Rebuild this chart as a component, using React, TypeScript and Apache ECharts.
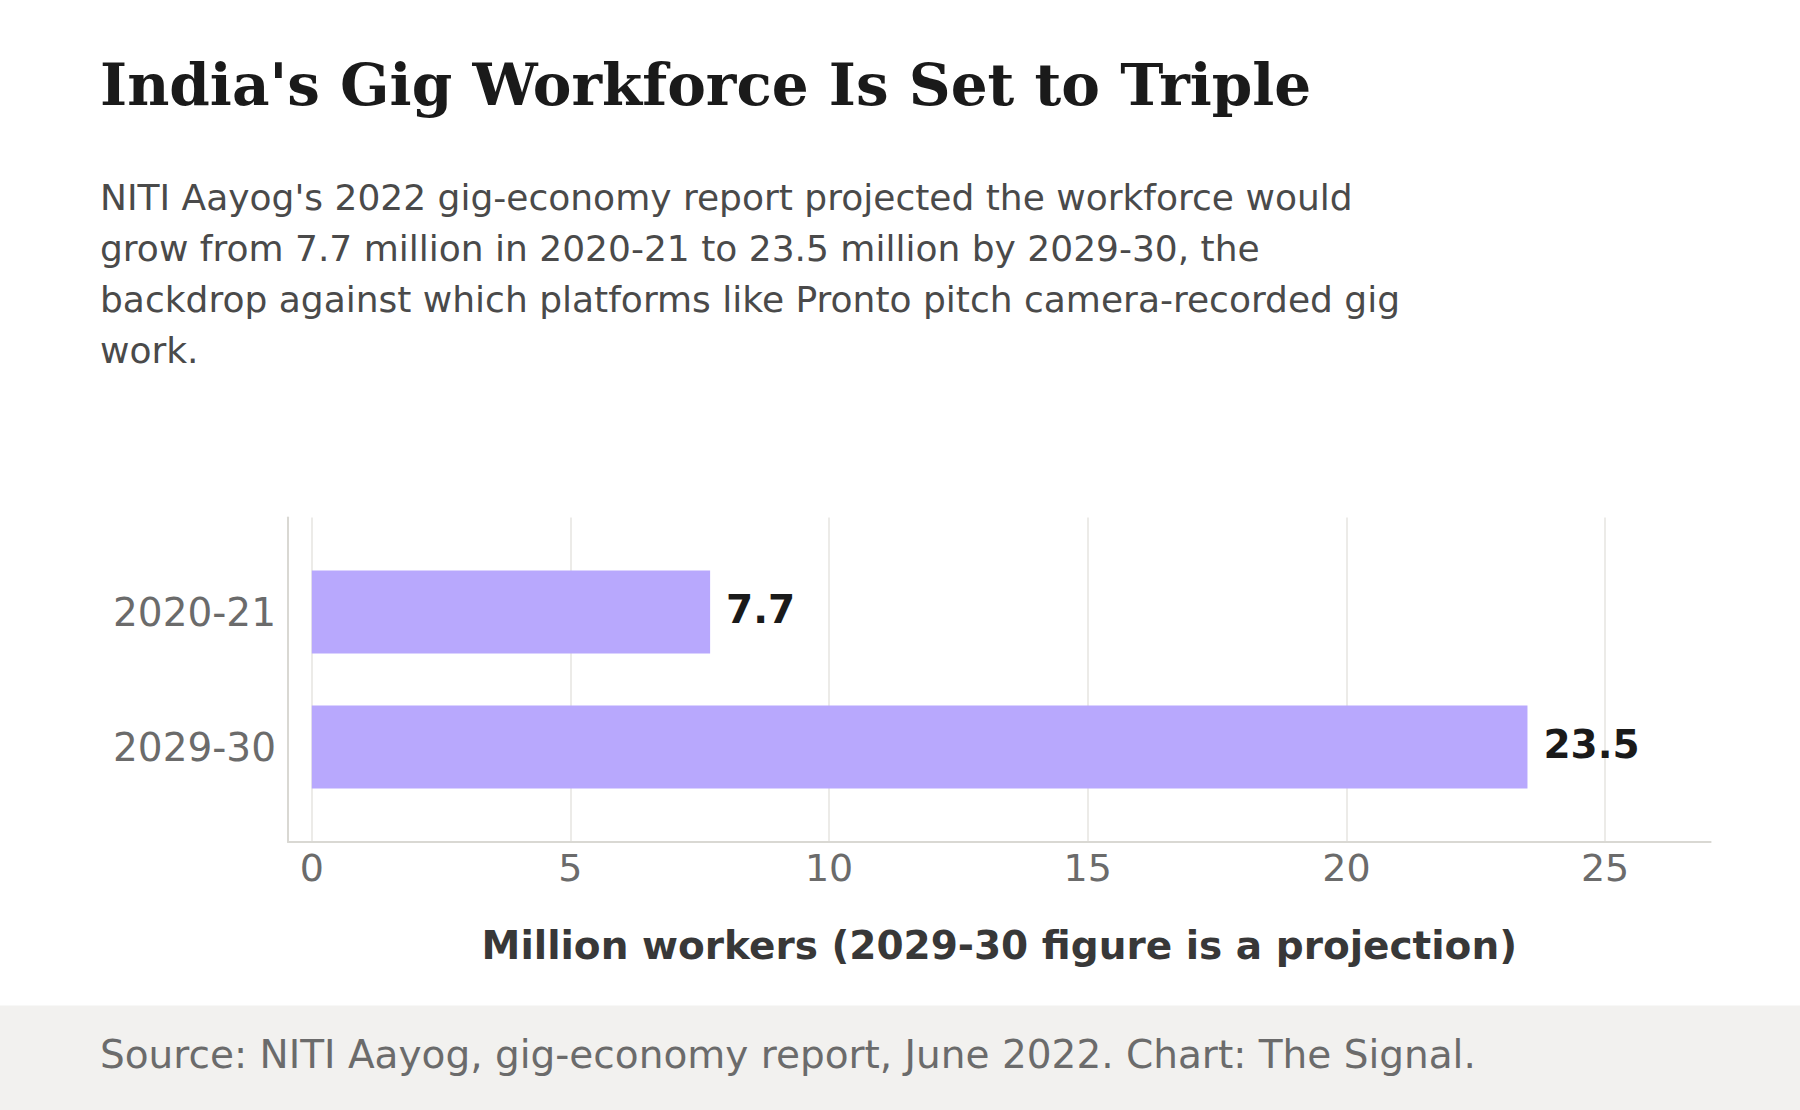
import React, { useEffect, useRef } from "react";
import * as echarts from "echarts";

const categories = ["2020-21", "2029-30"];
const workers = [7.7, 23.5];
const xTicks = [0, 5, 10, 15, 20, 25];
const xMin = -0.46;
const xMax = 27.04;

const titleText = "India's Gig Workforce Is Set to Triple";
const subtitleLines = [
  "NITI Aayog's 2022 gig-economy report projected the workforce would",
  "grow from 7.7 million in 2020-21 to 23.5 million by 2029-30, the",
  "backdrop against which platforms like Pronto pitch camera-recorded gig",
  "work.",
];
const axisName = "Million workers (2029-30 figure is a projection)";
const sourceText = "Source: NITI Aayog, gig-economy report, June 2022. Chart: The Signal.";

const SANS = "'DejaVu Sans', sans-serif";
const SERIF = "'DejaVu Serif', serif";

export default function App() {
  const ref = useRef<HTMLDivElement>(null);
  useEffect(() => {
    if (!ref.current) return;
    const chart = echarts.init(ref.current, undefined, { renderer: "svg" });
    const left = 288;
    const right = 89.4;
    chart.setOption({
      animation: false,
      backgroundColor: "#ffffff",
      grid: [
        { left, right, top: 517.5, bottom: 268, containLabel: false },
        { left, right, top: 544.5, bottom: 295.5, containLabel: false },
      ],
      xAxis: [
        {
          gridIndex: 0,
          type: "value",
          min: xMin,
          max: xMax,
          axisLine: { show: true, onZero: false, lineStyle: { color: "#d9d8d3", width: 2 } },
          axisTick: { show: false, customValues: xTicks },
          axisLabel: {
            customValues: xTicks,
            fontSize: 38,
            color: "#6b6b6b",
            fontFamily: SANS,
            margin: 7,
          },
          splitLine: { show: true, lineStyle: { color: "#e6e5e1", width: 1.5 } },
          name: axisName,
          nameLocation: "middle",
          nameGap: 84,
          nameTextStyle: {
            fontSize: 39,
            fontWeight: "bold",
            color: "#383838",
            fontFamily: SANS,
          },
        },
        {
          gridIndex: 1,
          type: "value",
          min: xMin,
          max: xMax,
          show: false,
        },
      ],
      yAxis: [
        {
          gridIndex: 0,
          type: "value",
          min: 0,
          max: 1,
          axisLine: { show: true, onZero: false, lineStyle: { color: "#d9d8d3", width: 2 } },
          axisTick: { show: false },
          axisLabel: { show: false },
          splitLine: { show: false },
        },
        {
          gridIndex: 1,
          type: "category",
          data: categories,
          inverse: true,
          axisLine: { show: false },
          axisTick: { show: false },
          splitLine: { show: false },
          axisLabel: {
            fontSize: 39,
            color: "#6b6b6b",
            fontFamily: SANS,
            margin: 12,
          },
        },
      ],
      series: [
        {
          type: "bar",
          xAxisIndex: 1,
          yAxisIndex: 1,
          data: workers,
          barWidth: 83,
          itemStyle: { color: "#b8a8fd" },
          label: {
            show: true,
            position: "right",
            distance: 16,
            offset: [0, -3],
            fontSize: 39,
            fontWeight: "bold",
            color: "#1a1a1a",
            fontFamily: SANS,
          },
        },
      ],
      graphic: [
        {
          type: "rect",
          z: -10,
          shape: { x: 0, y: 1005.6, width: 1800, height: 104.4 },
          style: { fill: "#f2f1ef" },
        },
        {
          type: "text",
          x: 100,
          y: 85,
          style: {
            text: titleText,
            font: `bold 58px ${SERIF}`,
            fill: "#1a1a1a",
            verticalAlign: "middle",
            align: "left",
          },
        },
        {
          type: "text",
          x: 100,
          y: 274,
          style: {
            text: subtitleLines.join("\n"),
            font: `36px ${SANS}`,
            lineHeight: 51,
            fill: "#4a4a4a",
            verticalAlign: "middle",
            align: "left",
          },
        },
        {
          type: "text",
          x: 100,
          y: 1054.5,
          style: {
            text: sourceText,
            font: `39px ${SANS}`,
            fill: "#6b6b6b",
            verticalAlign: "middle",
            align: "left",
          },
        },
      ],
    });
    return () => chart.dispose();
  }, []);
  return (
    <div
      ref={ref}
      style={{ position: "absolute", left: 0, top: 0, width: 1800, height: 1110 }}
    />
  );
}
